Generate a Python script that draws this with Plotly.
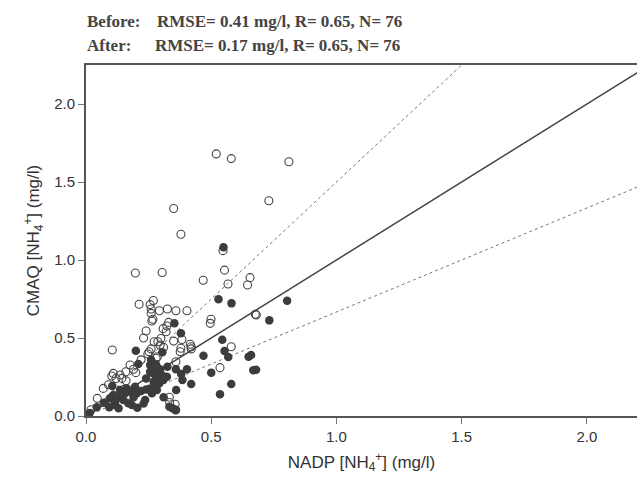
import plotly.graph_objects as go

# Before (open circles)
before_x = [0.52, 0.58, 0.81, 0.35, 0.73, 0.379, 0.197, 0.304, 0.547, 0.553,
            0.468, 0.567, 0.655, 0.645, 0.212, 0.256, 0.269, 0.26, 0.293, 0.325,
            0.359, 0.403, 0.267, 0.323, 0.32, 0.24, 0.499, 0.496, 0.676, 0.68,
            0.58, 0.535, 0.383, 0.416, 0.42, 0.379, 0.376, 0.359, 0.299, 0.296,
            0.287, 0.272, 0.252, 0.247, 0.285, 0.28, 0.105, 0.176, 0.159, 0.199,
            0.136, 0.109, 0.103, 0.143, 0.16, 0.069, 0.045, 0.333, 0.356, 0.334,
            0.358, 0.263, 0.42, 0.35, 0.02, 0.12, 0.19, 0.23, 0.26, 0.308,
            0.09, 0.15, 0.31, 0.33, 0.22, 0.26]
before_y = [1.68, 1.65, 1.63, 1.33, 1.38, 1.165, 0.917, 0.92, 1.06, 0.935,
            0.87, 0.846, 0.887, 0.84, 0.716, 0.714, 0.74, 0.686, 0.675, 0.686,
            0.675, 0.675, 0.62, 0.577, 0.54, 0.545, 0.62, 0.594, 0.652, 0.648,
            0.444, 0.31, 0.49, 0.46, 0.43, 0.434, 0.412, 0.348, 0.497, 0.455,
            0.476, 0.476, 0.412, 0.397, 0.38, 0.37, 0.423, 0.327, 0.284, 0.278,
            0.263, 0.273, 0.256, 0.241, 0.226, 0.177, 0.113, 0.12, 0.075, 0.087,
            0.038, 0.609, 0.444, 0.48, 0.04, 0.24, 0.30, 0.50, 0.658, 0.56,
            0.2, 0.17, 0.44, 0.6, 0.36, 0.43]

# After (filled circles)
after_x = [0.549, 0.529, 0.581, 0.803, 0.732, 0.353, 0.379, 0.544, 0.199, 0.305,
           0.469, 0.553, 0.568, 0.649, 0.659, 0.679, 0.668, 0.5, 0.58, 0.535,
           0.403, 0.42, 0.385, 0.36, 0.359, 0.325, 0.296, 0.269, 0.256, 0.272,
           0.209, 0.24, 0.323, 0.309, 0.292, 0.276, 0.256, 0.283, 0.263, 0.236,
           0.203, 0.176, 0.156, 0.196, 0.105, 0.109, 0.129, 0.096, 0.116, 0.149,
           0.169, 0.183, 0.205, 0.072, 0.043, 0.093, 0.116, 0.333, 0.359, 0.345,
           0.283, 0.303, 0.256, 0.136, 0.163, 0.22, 0.24, 0.38, 0.015, 0.26,
           0.28, 0.31, 0.27, 0.19, 0.23, 0.13]
after_y = [1.081, 0.748, 0.722, 0.739, 0.613, 0.594, 0.53, 0.489, 0.419, 0.408,
           0.386, 0.417, 0.378, 0.38, 0.391, 0.297, 0.294, 0.278, 0.205, 0.14,
           0.299, 0.205, 0.231, 0.167, 0.299, 0.316, 0.299, 0.316, 0.327, 0.269,
           0.333, 0.241, 0.252, 0.231, 0.209, 0.199, 0.177, 0.167, 0.146, 0.103,
           0.146, 0.156, 0.146, 0.188, 0.192, 0.135, 0.124, 0.113, 0.092, 0.103,
           0.081, 0.071, 0.053, 0.085, 0.056, 0.056, 0.071, 0.06, 0.038, 0.05,
           0.252, 0.263, 0.284, 0.167, 0.177, 0.16, 0.17, 0.27, 0.02, 0.36,
           0.33, 0.12, 0.22, 0.12, 0.08, 0.05]

# Reference lines: 1:1, 1.5:1 and 1:1.5
ref_x = [0, 2.5]
slopes = [1.0, 1.5, 2.0 / 3.0]
dashes = ["solid", "dash", "dash"]

X_RANGE = [0, 2.2]
Y_RANGE = [0, 2.25]

title_labels = ["Before:", "After:"]
title_stats = ["RMSE= 0.41 mg/l, R= 0.65, N= 76", "RMSE= 0.17 mg/l, R= 0.65, N= 76"]

W, H = 637, 481
ML, MR, MT, MB = 86, 0, 65, 65
PW, PH = W - ML - MR, H - MT - MB

fig = go.Figure()

for s, d in zip(slopes, dashes):
    solid = d == "solid"
    fig.add_trace(go.Scatter(
        x=ref_x, y=[v * s for v in ref_x], mode="lines",
        line=dict(color="#444444" if solid else "#777777",
                  width=1.5 if solid else 1, dash="solid" if solid else "3px,3px"),
        hoverinfo="skip", showlegend=False))

fig.add_trace(go.Scatter(
    x=before_x, y=before_y, mode="markers", name="Before",
    marker=dict(symbol="circle-open", size=8, color="#444444", line=dict(width=1.1)),
    showlegend=False, cliponaxis=False))

fig.add_trace(go.Scatter(
    x=after_x, y=after_y, mode="markers", name="After",
    marker=dict(symbol="circle", size=8.5, color="#3c3c3c"),
    showlegend=False, cliponaxis=False))

label_px = [86, 86]
stats_px = [156, 154]
centre_py = [22, 46]
for a, b, lx, sx, cy in zip(title_labels, title_stats, label_px, stats_px, centre_py):
    yy = 1.0 + (MT - cy) / PH
    fig.add_annotation(text="<b>" + a + "</b>", xref="paper", yref="paper",
                       x=(lx - ML) / PW, y=yy, xanchor="left", yanchor="middle",
                       showarrow=False, borderpad=0,
                       font=dict(family="Liberation Serif", size=17, color="#444444"))
    fig.add_annotation(text="<b>" + b + "</b>", xref="paper", yref="paper",
                       x=(sx - ML) / PW, y=yy, xanchor="left", yanchor="middle",
                       showarrow=False, borderpad=0,
                       font=dict(family="Liberation Serif", size=17, color="#444444"))

axis_common = dict(
    showgrid=False, zeroline=False, showline=True, linecolor="#555555", linewidth=2,
    ticks="outside", ticklen=6, tickcolor="#777777", tickwidth=1,
    tickfont=dict(family="Liberation Sans", size=15, color="#333333"),
    tickformat=".1f", dtick=0.5,
)

fig.update_xaxes(range=X_RANGE, tick0=0, mirror=True, **axis_common,
                 title=dict(text="NADP [NH<sub>4</sub><sup>+</sup>] (mg/l)",
                            font=dict(family="Liberation Sans", size=17, color="#333333"),
                            standoff=12))
fig.update_yaxes(range=Y_RANGE, tick0=0, mirror=False, **axis_common,
                 title=dict(text="CMAQ [NH<sub>4</sub><sup>+</sup>] (mg/l)",
                            font=dict(family="Liberation Sans", size=17, color="#333333"),
                            standoff=10))

fig.update_layout(
    width=W, height=H,
    margin=dict(l=ML, r=MR, t=MT, b=MB),
    plot_bgcolor="white", paper_bgcolor="white",
)

fig.write_html("out.html", config={"displayModeBar": False},
               post_script="document.body.style.margin='0';document.body.style.overflow='hidden';")
